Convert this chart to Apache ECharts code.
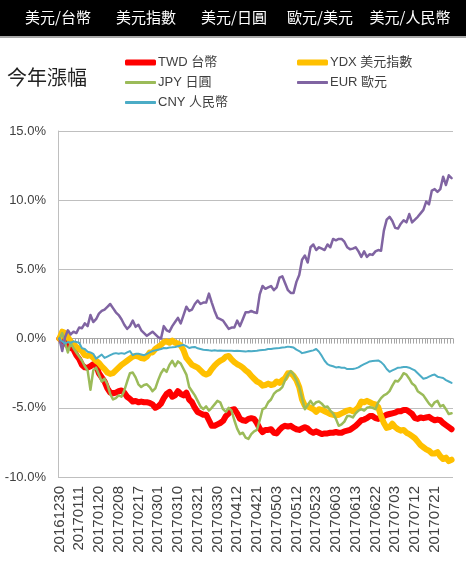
<!DOCTYPE html>
<html>
<head>
<meta charset="utf-8">
<title>今年漲幅</title>
<script src="https://cdn.jsdelivr.net/npm/echarts@6/dist/echarts.min.js"></script>
<style>
  html, body { margin: 0; padding: 0; background: #fff; }
  #chart { width: 466px; height: 570px; }
</style>
</head>
<body>
<div id="chart"></div>
<script>
// header tabs
var tabs = ['美元/台幣', '美元指數', '美元/日圓', '歐元/美元', '美元/人民幣']

// Taiwan trading days
var dates = [
  '20161230', '20170103', '20170104', '20170105', '20170106', '20170109', '20170110',
  '20170111', '20170112', '20170113', '20170116', '20170117', '20170118', '20170119',
  '20170120', '20170123', '20170124', '20170202', '20170203', '20170206', '20170207',
  '20170208', '20170209', '20170210', '20170213', '20170214', '20170215', '20170216',
  '20170217', '20170218', '20170220', '20170221', '20170222', '20170223', '20170224',
  '20170301', '20170302', '20170303', '20170306', '20170307', '20170308', '20170309',
  '20170310', '20170313', '20170314', '20170315', '20170316', '20170317', '20170320',
  '20170321', '20170322', '20170323', '20170324', '20170327', '20170328', '20170329',
  '20170330', '20170331', '20170405', '20170406', '20170407', '20170410', '20170411',
  '20170412', '20170413', '20170414', '20170417', '20170418', '20170419', '20170420',
  '20170421', '20170424', '20170425', '20170426', '20170427', '20170428', '20170502',
  '20170503', '20170504', '20170505', '20170508', '20170509', '20170510', '20170511',
  '20170512', '20170515', '20170516', '20170517', '20170518', '20170519', '20170522',
  '20170523', '20170524', '20170525', '20170526', '20170531', '20170601', '20170602',
  '20170603', '20170605', '20170606', '20170607', '20170608', '20170609', '20170612',
  '20170613', '20170614', '20170615', '20170616', '20170619', '20170620', '20170621',
  '20170622', '20170623', '20170626', '20170627', '20170628', '20170629', '20170630',
  '20170703', '20170704', '20170705', '20170706', '20170707', '20170710', '20170711',
  '20170712', '20170713', '20170714', '20170717', '20170718', '20170719', '20170720',
  '20170721', '20170724', '20170725', '20170726', '20170727', '20170728', '20170731'
]

// % change since 20161230
var twd = [
  0, -0.15, -0.3, -0.5, -0.65, -0.8, -1.2, -1.47, -1.9, -2.08,
  -2.1, -2.0, -1.85, -1.9, -2.5, -2.8, -3.1, -3.6, -3.9, -3.95,
  -3.9, -3.8, -3.75, -3.9, -4.2, -4.35, -4.55, -4.5, -4.6, -4.55,
  -4.6, -4.6, -4.65, -4.75, -5.0, -4.9, -4.7, -4.3, -4.0, -3.85,
  -4.2, -4.1, -3.8, -4.0, -4.1, -3.9, -4.4, -4.6, -5.0, -5.3,
  -5.4, -5.5, -5.5, -5.9, -6.3, -6.3, -6.2, -6.1, -5.95, -5.6,
  -5.4, -5.15, -5.1, -5.4, -5.8, -5.9, -5.95, -5.8, -5.75, -5.8,
  -6.1, -6.5, -6.75, -6.6, -6.6, -6.55, -6.8, -6.85, -6.6, -6.4,
  -6.3, -6.35, -6.3, -6.45, -6.55, -6.6, -6.5, -6.4, -6.5, -6.7,
  -6.8, -6.7, -6.8, -6.9, -6.85, -6.85, -6.8, -6.8, -6.75, -6.8,
  -6.8, -6.7, -6.65, -6.6, -6.45, -6.3, -6.1, -5.9, -5.85, -5.75,
  -5.6, -5.6, -5.75, -5.8, -5.7, -5.6, -5.5, -5.45, -5.4, -5.35,
  -5.25, -5.25, -5.15, -5.15, -5.3, -5.45, -5.75, -5.8, -5.7, -5.75,
  -5.7, -5.65, -5.8, -5.9, -5.85, -5.9, -6.1, -6.25, -6.4, -6.55
]
var ydx = [
  0, 0.5, 0.4, 0.1, -0.2, -0.4, -0.6, -0.75, -0.9, -1.2,
  -1.25, -1.2, -1.4, -1.6, -1.75, -2.0, -2.2, -2.45, -2.55, -2.5,
  -2.3, -2.1, -1.9, -1.75, -1.6, -1.45, -1.3, -1.25, -1.3, -1.4,
  -1.45, -1.3, -1.0, -1.0, -0.75, -0.6, -0.45, -0.25, -0.2, -0.3,
  -0.15, -0.3, -0.35, -0.5, -0.85, -1.4, -1.65, -1.9, -2.0, -2.1,
  -2.3, -2.5, -2.6, -2.5, -2.2, -1.95, -1.75, -1.6, -1.5, -1.3,
  -1.25, -1.5, -1.7, -1.85, -1.95, -2.1, -2.3, -2.45, -2.7, -2.9,
  -3.1, -3.2, -3.4, -3.35, -3.25, -3.35, -3.3, -3.1, -3.2, -3.0,
  -2.85, -2.5, -2.5, -2.7, -3.0, -3.5, -4.4, -4.85, -4.9, -5.0,
  -5.1, -5.3, -5.1, -5.15, -5.25, -5.35, -5.45, -5.5, -5.55, -5.5,
  -5.4, -5.3, -5.2, -5.15, -5.25, -5.15, -4.95, -4.55, -4.6, -4.5,
  -4.6, -4.7, -4.75, -4.95, -5.6, -6.1, -6.45, -6.4, -6.15, -6.4,
  -6.55, -6.65, -6.6, -6.8, -6.9, -7.05, -7.2, -7.45, -7.7, -7.85,
  -8.0, -8.1, -8.3, -8.3, -8.2, -8.5, -8.7, -8.6, -8.85, -8.75
]
var jpy = [
  0, 0.4, -0.3, -1.0, -0.3, -0.7, -1.0, -1.3, -1.6, -2.0,
  -2.3, -3.7, -2.3, -2.1, -2.6, -3.1, -2.9, -3.3, -4.0, -4.4,
  -4.3, -4.1, -4.2, -3.75, -3.1, -2.5, -2.45, -2.8, -3.3, -3.5,
  -3.35, -3.3, -3.5, -3.8, -3.6, -3.0, -2.5, -2.2, -2.4, -1.9,
  -1.6, -2.0, -1.65, -1.8, -2.2, -2.6, -3.5, -3.8, -4.1, -4.5,
  -4.9, -5.1, -4.9, -5.2, -5.0, -4.75, -4.5, -4.6, -5.1, -5.3,
  -5.0, -5.2, -5.9, -6.5, -6.9, -6.8, -7.15, -7.25, -6.9, -6.7,
  -6.6, -5.9, -5.1, -5.0, -4.6, -4.4, -4.0, -3.8, -3.7, -3.5,
  -3.0, -2.6, -2.35, -2.6, -3.0, -3.5, -4.3, -5.1, -4.8, -4.5,
  -4.8, -4.6, -4.55, -4.7, -4.95, -4.9, -5.2, -5.4, -5.8, -6.3,
  -6.2, -6.0, -5.6, -5.6, -5.7, -5.4, -5.2, -5.1, -5.2, -5.0,
  -4.95, -5.0, -5.1, -4.6, -4.3, -4.1, -4.0, -3.8, -3.4, -3.05,
  -3.1, -2.85, -2.5, -2.6, -2.9, -3.25, -3.4, -3.8, -3.95, -4.1,
  -4.4, -4.7, -4.9, -4.6, -4.5, -4.9, -4.8, -5.1, -5.45, -5.4
]
var eur = [
  0, -0.9, 0.1, 0.6, 0.3, 0.5, 0.4, 0.8, 0.75, 1.1,
  0.9, 1.7, 1.2, 1.4, 1.8, 2.0, 2.1, 2.3, 2.5, 2.2,
  1.9, 1.7, 1.4, 1.0, 0.7, 0.9, 1.3, 0.85, 1.0, 0.6,
  0.4, 0.2, 0.35, 0.5, 0.3, 0.1, 0.0, 0.9, 0.6, 0.5,
  0.9, 1.2, 1.5, 1.1, 1.7, 2.3, 2.0, 2.1, 2.5, 2.75,
  2.5, 2.6, 2.6, 3.25, 2.6, 2.0, 1.5, 1.4, 1.3, 1.0,
  0.7, 0.8, 0.8, 1.3, 0.9, 1.4, 1.9, 1.9, 2.0, 1.9,
  1.85, 3.2, 3.8, 3.6, 3.7, 3.8, 3.5, 3.7, 4.4, 4.5,
  4.0, 3.5, 3.3, 3.3, 4.1, 4.6, 5.7, 6.0, 5.5, 6.6,
  6.8, 6.4, 6.6, 6.5, 6.4, 6.8, 6.6, 7.2, 7.1, 7.2,
  7.2, 7.0, 6.6, 6.45, 6.5, 6.6, 6.3, 5.9, 6.3, 5.9,
  6.1, 6.05, 6.3, 6.4, 6.35, 7.8, 8.6, 8.8, 8.5, 8.0,
  7.95, 8.3, 8.55, 8.4, 9.0, 8.4, 8.6, 8.8, 9.05, 9.3,
  9.9, 9.7, 10.7, 10.8, 10.6, 10.8, 11.7, 11.1, 11.8, 11.6
]
var cny = [
  0, -0.2, -0.35, -0.25, -0.3, -0.2, -0.25, -0.3, -0.7, -0.75,
  -0.95, -1.0, -1.1, -1.45, -1.3, -1.15, -1.4, -1.3, -1.2, -1.1,
  -1.05, -1.1, -1.05, -1.1, -1.0, -0.9, -1.2, -1.1, -1.1, -1.15,
  -1.2, -1.1, -1.0, -0.9, -0.85, -0.8, -0.75, -0.68, -0.7, -0.65,
  -0.63, -0.6, -0.55, -0.5, -0.45, -0.55, -0.68, -0.62, -0.6, -0.7,
  -0.75, -0.8, -0.82, -0.85, -0.87, -0.85, -0.87, -0.86, -0.87, -0.87,
  -0.88, -0.87, -0.9, -0.88, -0.9, -0.92, -0.94, -0.9, -0.92, -0.9,
  -0.88, -0.85, -0.82, -0.8, -0.75, -0.75, -0.72, -0.7, -0.68, -0.65,
  -0.62, -0.58, -0.6, -0.65, -0.8, -0.9, -1.05, -1.0, -0.95, -0.9,
  -0.85, -0.75, -0.95, -1.25, -1.6, -1.85, -1.95, -2.0, -2.08, -2.05,
  -2.1, -2.1, -2.2, -2.2, -2.2, -2.15, -2.08, -1.95, -1.85, -1.75,
  -1.65, -1.62, -1.6, -1.58, -1.7, -1.9, -2.2, -2.4, -2.3, -2.2,
  -2.1, -2.08, -2.05, -2.05, -2.1, -2.2, -2.3, -2.5, -2.7, -2.9,
  -2.85, -2.75, -2.65, -2.6, -2.75, -2.8, -2.85, -3.0, -3.1, -3.2
]

var LATIN = "'Liberation Sans', 'Noto Sans CJK TC', sans-serif"
var CJK = "'Noto Sans CJK TC', 'Liberation Sans', sans-serif"
var GRID_COLOR = '#bfbfbf'

function legendItem(name, left, top, h) {
  return {
    data: [name],
    left: left,
    top: top,
    padding: 0,
    itemWidth: 31,
    itemHeight: h,
    icon: 'roundRect',
    selectedMode: false,
    textStyle: { fontSize: 13, color: '#404040', fontFamily: LATIN, padding: [0, 0, 0, -3] }
  }
}

function lineSeries(name, data, color, width) {
  return {
    name: name,
    type: 'line',
    data: data,
    symbol: 'none',
    animation: false,
    lineStyle: { color: color, width: width, join: 'round', cap: 'round' },
    itemStyle: { color: color }
  }
}

var tabCenters = [58, 146, 234, 320, 410]
var headerGraphics = [
  { type: 'rect', shape: { x: 0, y: 0, width: 466, height: 36 }, style: { fill: '#000' } },
  { type: 'rect', shape: { x: 0, y: 36, width: 466, height: 2 }, style: { fill: '#a8a8a8' } }
]
tabs.forEach(function (t, i) {
  headerGraphics.push({
    type: 'text',
    x: tabCenters[i],
    y: 17,
    style: {
      text: t,
      fill: '#fff',
      font: '15px ' + CJK,
      align: 'center',
      verticalAlign: 'middle',
      textAlign: 'center',
      textVerticalAlign: 'middle'
    }
  })
})

var chart = echarts.init(document.getElementById('chart'))
chart.setOption({
  animation: false,
  backgroundColor: '#fff',
  graphic: headerGraphics,
  title: {
    text: '今年漲幅',
    left: 7,
    top: 67,
    padding: 0,
    textStyle: { fontSize: 20, fontWeight: 'normal', color: '#222', fontFamily: CJK }
  },
  legend: [
    legendItem('TWD 台幣', 125, 56, 6),
    legendItem('YDX 美元指數', 297, 56, 6),
    legendItem('JPY 日圓', 125, 76, 3),
    legendItem('EUR 歐元', 297, 76, 3),
    legendItem('CNY 人民幣', 125, 96, 3)
  ],
  grid: { left: 58, right: 13, top: 131, bottom: 93 },
  xAxis: [
    {
      type: 'category',
      data: dates,
      position: 'bottom',
      axisLine: { show: false, onZero: false },
      axisTick: { show: false },
      axisLabel: {
        interval: 6,
        rotate: 90,
        margin: 9,
        fontSize: 15,
        color: '#404040',
        fontFamily: LATIN
      }
    },
    {
      type: 'category',
      data: dates,
      position: 'bottom',
      axisLine: { show: true, onZero: true, lineStyle: { color: '#a6a6a6', width: 1 } },
      axisTick: { show: true, interval: 0, length: 5, lineStyle: { color: '#a6a6a6' } },
      axisLabel: { show: false }
    }
  ],
  yAxis: {
    type: 'value',
    min: -10,
    max: 15,
    interval: 5,
    axisLine: { show: true, lineStyle: { color: GRID_COLOR } },
    axisTick: { show: false },
    splitLine: { lineStyle: { color: GRID_COLOR, width: 1 } },
    axisLabel: {
      margin: 12,
      fontSize: 13,
      color: '#404040',
      fontFamily: LATIN,
      formatter: function (v) { return v.toFixed(1) + '%' }
    }
  },
  series: [
    lineSeries('TWD 台幣', twd, '#ff0000', 6),
    lineSeries('YDX 美元指數', ydx, '#ffc000', 6),
    lineSeries('JPY 日圓', jpy, '#9bbb59', 2.5),
    lineSeries('EUR 歐元', eur, '#8064a2', 2.5),
    lineSeries('CNY 人民幣', cny, '#4bacc6', 2)
  ]
})

window.addEventListener('resize', function () {
  chart.resize()
})
</script>
</body>
</html>
